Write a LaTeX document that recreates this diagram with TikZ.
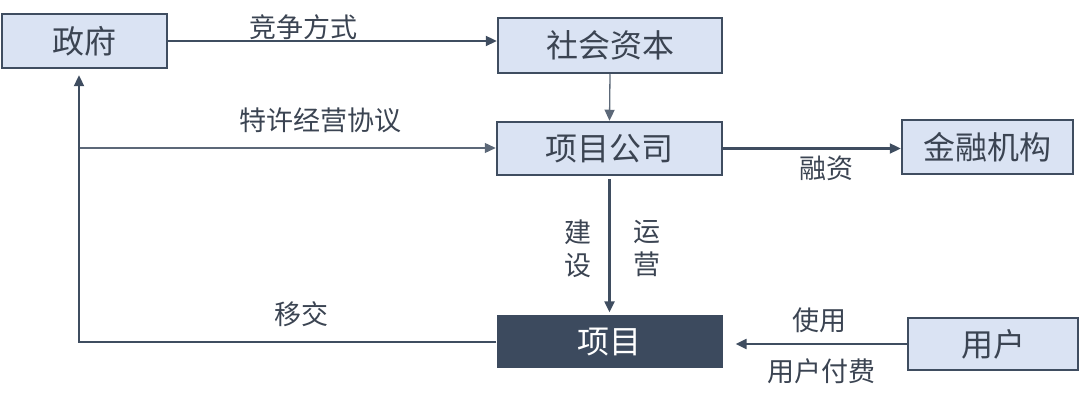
\documentclass[tikz,border=0pt]{standalone}
\usepackage{fontspec}
\newfontfamily\cjk{Noto Sans CJK SC}
\usetikzlibrary{arrows.meta}
\definecolor{boxfill}{HTML}{DAE3F3}
\definecolor{edgec}{HTML}{3F4D60}
\definecolor{darkc}{HTML}{3C4A5E}
\definecolor{txtc}{HTML}{3B4452}
\begin{document}
\begin{tikzpicture}[x=1pt,y=-1pt,
  boxn/.style={draw=edgec,line width=2.5pt,fill=boxfill,inner sep=0pt,text=txtc,
    font=\cjk\fontsize{32}{32}\selectfont},
  darkbox/.style={fill=darkc,inner sep=0pt,text=white,font=\cjk\fontsize{32}{32}\selectfont},
  lbl/.style={text=txtc,inner sep=0pt,font=\cjk\fontsize{27}{33}\selectfont,align=center},
  mainarr/.style={draw=edgec,line width=2.3pt,-{Triangle[length=11pt,width=10pt]}},
  thinarr/.style={draw=edgec!85,line width=1.3pt,-{Triangle[length=11pt,width=10pt]}}]
\useasboundingbox (0,0) rectangle (1080,403);
\node[boxn,minimum width=165pt,minimum height=54pt] (gov) at (84.5,41) {政府};
\node[boxn,minimum width=224pt,minimum height=55pt] (cap) at (610,45.5) {社会资本};
\node[boxn,minimum width=225pt,minimum height=53pt] (co) at (609.5,148.5) {项目公司};
\node[boxn,minimum width=171pt,minimum height=54pt] (fin) at (987.5,147) {金融机构};
\node[darkbox,minimum width=226pt,minimum height=53pt] (proj) at (609.5,342) {项目};
\node[boxn,minimum width=170pt,minimum height=52pt] (user) at (993,344) {用户};
\coordinate (fr) at (79,148);
\coordinate (turn) at (79,342);
\draw[mainarr] (gov.east) -- (gov.east -| cap.west);
\draw[thinarr] (cap.south) -- (co.north);
\draw[thinarr] (fr) -- (fr -| co.west);
\draw[mainarr] (co.east) -- (co.east -| fin.west);
\draw[mainarr,shorten <=3pt,shorten >=3pt] (co.south) -- (proj.north);
\draw[mainarr,shorten >=6pt] (proj.west) -- (turn) -- (turn |- gov.south);
\draw[mainarr,shorten >=13pt] (user.west) -- (user.west -| proj.east);
\node[lbl] (l1) at (303,27) {竞争方式};
\node[lbl] (l2) at (320,120) {特许经营协议};
\node[lbl] (l3) at (826,168) {融资};
\node[lbl] (l4) at (578,249) {建\\设};
\node[lbl] (l5) at (647,249) {运\\营};
\node[lbl] (l6) at (301,314) {移交};
\node[lbl] (l7) at (819,320) {使用};
\node[lbl] (l8) at (821,371) {用户付费};
\end{tikzpicture}
\end{document}
